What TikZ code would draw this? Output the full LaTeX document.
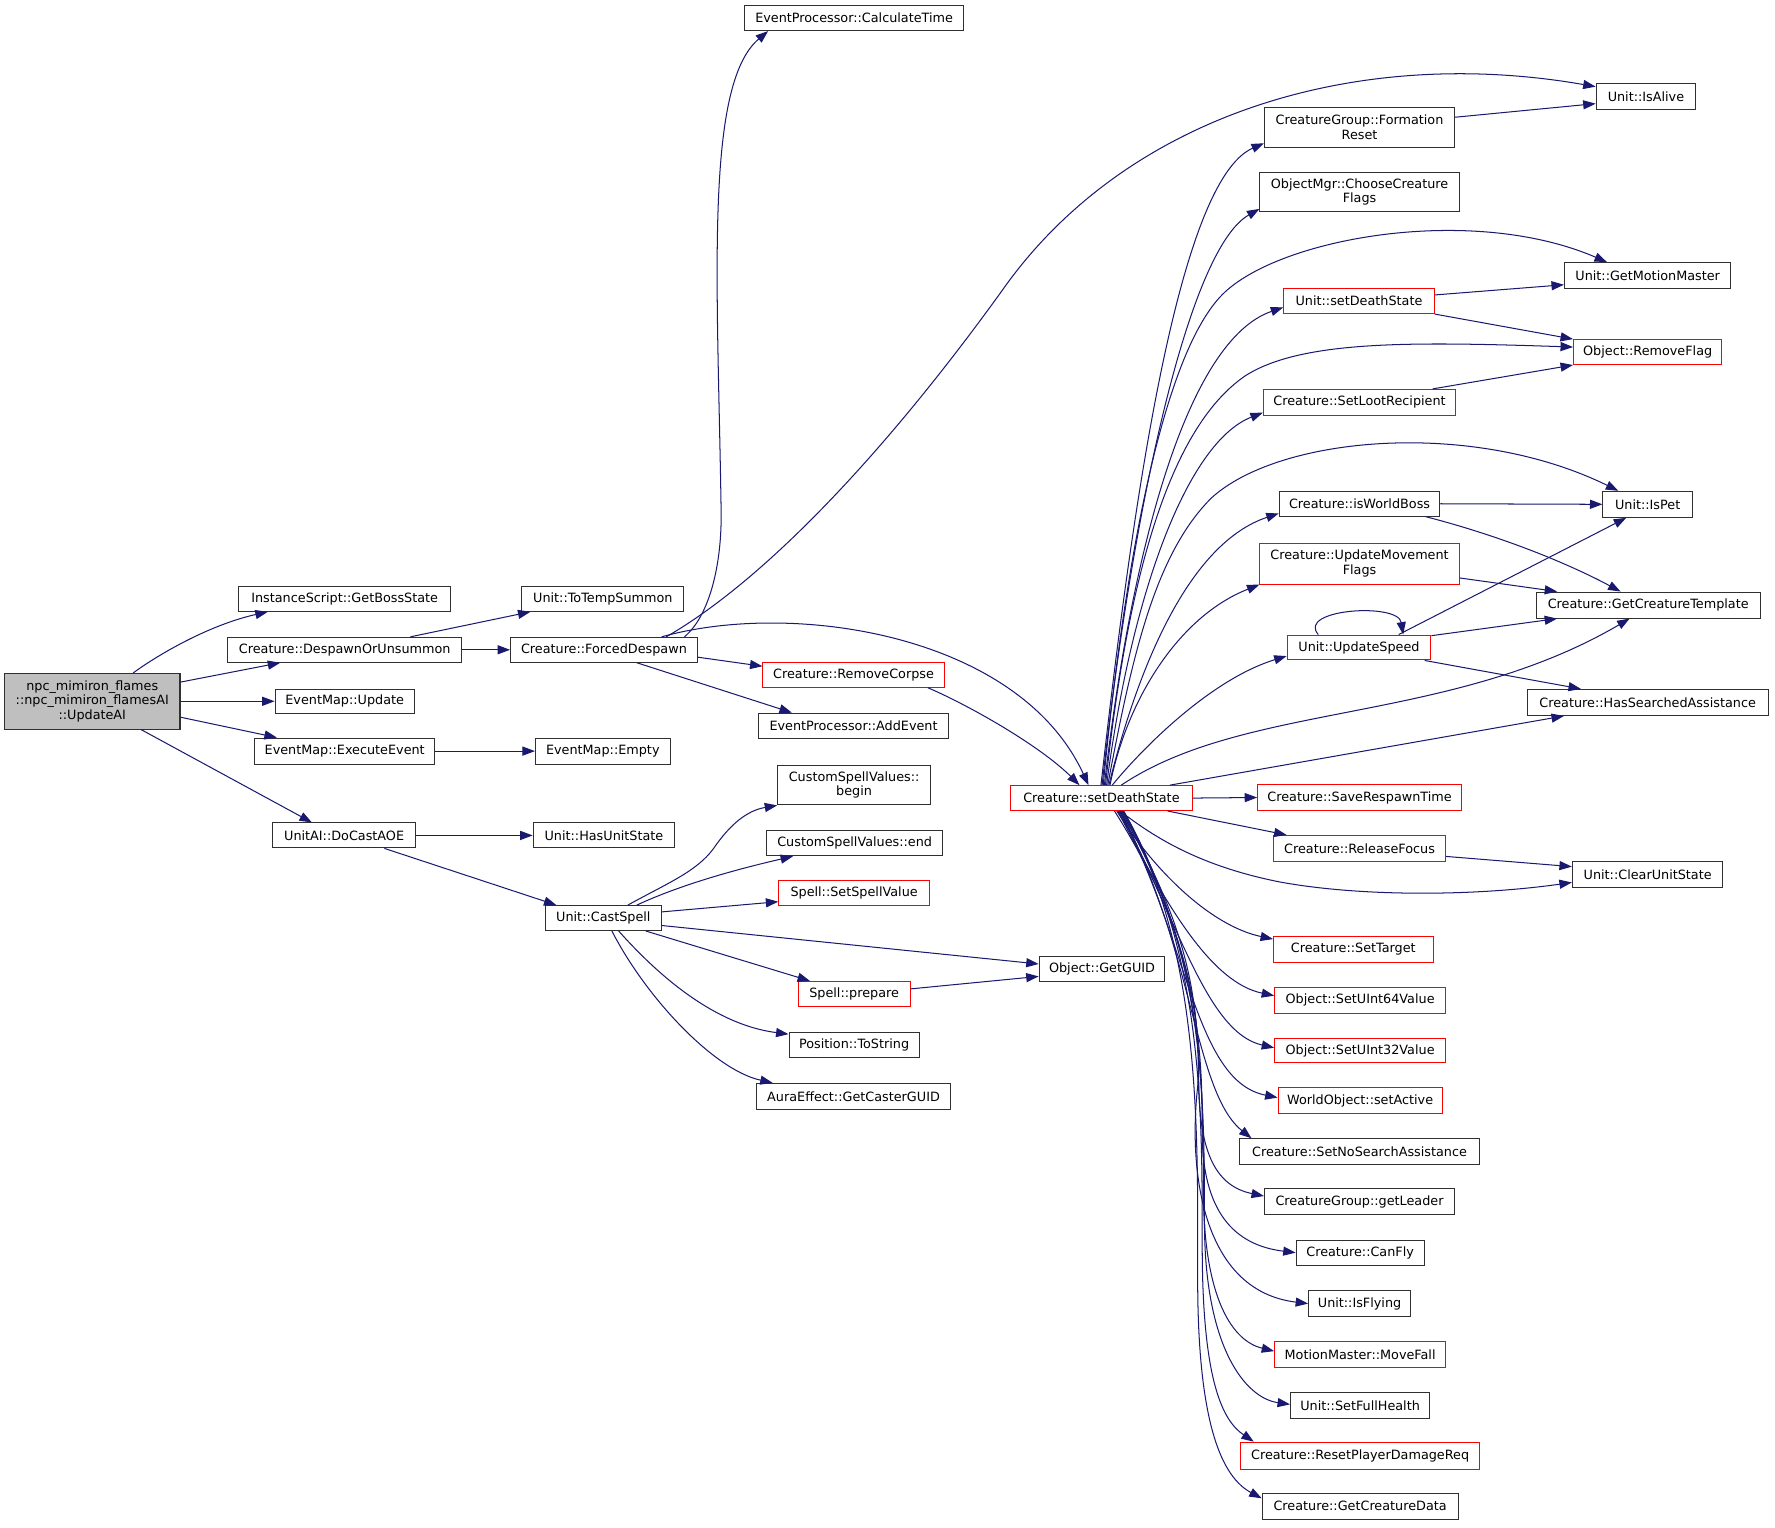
\documentclass[tikz,border=0pt]{standalone}
\usepackage{fontspec}
\setmainfont{DejaVu Sans}
\usetikzlibrary{arrows.meta}
\definecolor{edgeblue}{HTML}{191970}
\definecolor{boxred}{HTML}{FF0000}
\definecolor{boxgray}{HTML}{BFBFBF}
\definecolor{boxline}{HTML}{303030}
\newcommand\mynode[7]{\node[#6,minimum width={#3-#2},minimum height={#5-#4}] (#1) at ({(#2+#3)/2},{(#4+#5)/2}) {#7};}
\begin{document}
\begin{tikzpicture}[x=1pt,y=-1pt,
  box/.style={draw=boxline,line width=0.9pt,fill=white,inner sep=0pt,align=center,font=\fontsize{11.3}{13}\selectfont},
  rbox/.style={box,draw=boxred},
  gbox/.style={box,fill=boxgray},
  e/.style={draw=edgeblue,line width=0.9pt,-{Triangle[length=11pt,width=8pt]}}]
\fill[white] (0,0) rectangle (1568,1349);
\useasboundingbox (0,0) rectangle (1568,1349);

\mynode{main}{4}{159}{595}{644}{gbox}{npc\_mimiron\_flames\\::npc\_mimiron\_flamesAI\\::UpdateAI}
\mynode{gbs}{211}{398}{518}{540}{box}{InstanceScript::GetBossState}
\mynode{dou}{201}{408}{563}{585}{box}{Creature::DespawnOrUnsummon}
\mynode{emu}{243}{366}{609}{630}{box}{EventMap::Update}
\mynode{eee}{225}{384}{652}{675}{box}{EventMap::ExecuteEvent}
\mynode{aoe}{241}{367}{727}{749}{box}{UnitAI::DoCastAOE}
\mynode{tts}{461}{604}{518}{540}{box}{Unit::ToTempSummon}
\mynode{fd}{451}{616}{563}{585}{box}{Creature::ForcedDespawn}
\mynode{emp}{473}{592}{652}{675}{box}{EventMap::Empty}
\mynode{hus}{471}{596}{727}{749}{box}{Unit::HasUnitState}
\mynode{cs}{482}{584}{800}{822}{box}{Unit::CastSpell}
\mynode{ct}{658}{851}{5}{27}{box}{EventProcessor::CalculateTime}
\mynode{rc}{674}{834}{585}{607}{rbox}{Creature::RemoveCorpse}
\mynode{ae}{670}{838}{630}{652}{box}{EventProcessor::AddEvent}
\mynode{csb}{687}{822}{676}{711}{box}{CustomSpellValues::\\begin}
\mynode{cse}{677}{833}{734}{756}{box}{CustomSpellValues::end}
\mynode{ssv}{688}{821}{778}{800}{rbox}{Spell::SetSpellValue}
\mynode{sp}{705}{804}{867}{889}{rbox}{Spell::prepare}
\mynode{pts}{697}{812}{912}{934}{box}{Position::ToString}
\mynode{gcg}{668}{840}{957}{980}{box}{AuraEffect::GetCasterGUID}
\mynode{guid}{918}{1029}{845}{867}{box}{Object::GetGUID}
\mynode{cds}{893}{1053}{694}{716}{rbox}{Creature::setDeathState}
\mynode{fr}{1117}{1285}{95}{130}{box}{CreatureGroup::Formation\\Reset}
\mynode{ccf}{1113}{1289}{152}{187}{box}{ObjectMgr::ChooseCreature\\Flags}
\mynode{uds}{1134}{1267}{255}{277}{rbox}{Unit::setDeathState}
\mynode{slr}{1116}{1286}{344}{367}{rbox}{Creature::SetLootRecipient}
\mynode{iwb}{1130}{1272}{434}{456}{box}{Creature::isWorldBoss}
\mynode{umf}{1113}{1289}{480}{516}{rbox}{Creature::UpdateMovement\\Flags}
\mynode{us}{1137}{1264}{561}{583}{rbox}{Unit::UpdateSpeed}
\mynode{srt}{1111}{1291}{693}{716}{rbox}{Creature::SaveRespawnTime}
\mynode{rf}{1125}{1277}{738}{761}{rbox}{Creature::ReleaseFocus}
\mynode{st}{1125}{1266}{827}{850}{rbox}{Creature::SetTarget}
\mynode{s64}{1126}{1277}{872}{895}{rbox}{Object::SetUInt64Value}
\mynode{s32}{1126}{1277}{917}{939}{rbox}{Object::SetUInt32Value}
\mynode{sa}{1129}{1274}{961}{984}{rbox}{WorldObject::setActive}
\mynode{snsa}{1095}{1307}{1006}{1029}{box}{Creature::SetNoSearchAssistance}
\mynode{gl}{1117}{1285}{1050}{1073}{box}{CreatureGroup::getLeader}
\mynode{cf}{1145}{1258}{1096}{1118}{box}{Creature::CanFly}
\mynode{ifl}{1156}{1246}{1140}{1163}{box}{Unit::IsFlying}
\mynode{mf}{1126}{1277}{1185}{1208}{rbox}{MotionMaster::MoveFall}
\mynode{sfh}{1140}{1263}{1230}{1253}{box}{Unit::SetFullHealth}
\mynode{rpd}{1096}{1307}{1274}{1298}{rbox}{Creature::ResetPlayerDamageReq}
\mynode{gcd}{1115}{1288}{1319}{1342}{box}{Creature::GetCreatureData}
\mynode{ia}{1410}{1498}{74}{97}{box}{Unit::IsAlive}
\mynode{gmm}{1382}{1529}{232}{255}{box}{Unit::GetMotionMaster}
\mynode{rmf}{1390}{1521}{300}{322}{rbox}{Object::RemoveFlag}
\mynode{ip}{1416}{1495}{434}{457}{box}{Unit::IsPet}
\mynode{gct}{1357}{1555}{523}{546}{box}{Creature::GetCreatureTemplate}
\mynode{hsa}{1349}{1562}{609}{632}{box}{Creature::HasSearchedAssistance}
\mynode{cus}{1389}{1522}{761}{784}{box}{Unit::ClearUnitState}

% main
\draw[e] ([xshift=114pt]main.north west) .. controls (140,578) and (185,552) .. ([xshift=26pt]gbs.south west);
\draw[e] ([yshift=-8pt]main.north east) -- ([xshift=47pt]dou.south west);
\draw[e] (main.east) -- (emu.west);
\draw[e] ([yshift=-39pt]main.north east) -- ([xshift=20pt]eee.north west);
\draw[e] ([xshift=121pt]main.south west) -- ([xshift=35pt]aoe.north west);
% second level
\draw[e] ([xshift=162pt]dou.north west) -- ([xshift=8pt]tts.south west);
\draw[e] (dou.east) -- (fd.west);
\draw[e] (eee.east) -- (emp.west);
\draw[e] (aoe.east) -- (hus.west);
\draw[e] ([xshift=99pt]aoe.south west) -- ([xshift=10pt]cs.north west);
% ForcedDespawn
\draw[e] ([xshift=154pt]fd.north west) .. controls (626,545) and (638,500) .. (637,450) .. controls (634,250) and (622,75) .. ([xshift=21pt]ct.south west);
\draw[e] ([xshift=138pt]fd.north west) .. controls (680,510) and (790,390) .. (890,250) .. controls (1000,100) and (1200,40) .. ([yshift=-3pt]ia.north west);
\draw[e] ([xshift=134pt]fd.north west) .. controls (700,530) and (900,560) .. ([xshift=69pt]cds.north west);
\draw[e] ([yshift=-18pt]fd.north east) -- ([yshift=-4pt]rc.north west);
\draw[e] ([xshift=112pt]fd.south west) -- ([xshift=30pt]ae.north west);
\draw[e] ([xshift=146pt]rc.south west) .. controls (860,625) and (920,660) .. ([xshift=61pt]cds.north west);
% CastSpell
\draw[e] ([xshift=73pt]cs.north west) .. controls (590,780) and (615,770) .. (630,750) .. controls (645,728) and (660,716) .. (csb.south west);
\draw[e] ([xshift=81pt]cs.north west) .. controls (600,782) and (650,768) .. ([xshift=24pt]cse.south west);
\draw[e] ([yshift=-6pt]cs.north east) -- ([yshift=-19pt]ssv.north west);
\draw[e] ([yshift=-18pt]cs.north east) -- ([yshift=-7pt]guid.north west);
\draw[e] ([xshift=89pt]cs.south west) -- ([xshift=11pt]sp.north west);
\draw[e] ([xshift=65pt]cs.south west) .. controls (580,860) and (630,905) .. ([yshift=-2pt]pts.north west);
\draw[e] ([xshift=59pt]cs.south west) .. controls (570,880) and (630,945) .. ([xshift=15pt]gcg.north west);
\draw[e] ([yshift=-7pt]sp.north east) -- ([yshift=-18pt]guid.north west);
% setDeathState upward
\draw[e] ([xshift=80pt]cds.north west) .. controls (1000,450) and (1040,160) .. ([yshift=-32pt]fr.north west);
\draw[e] ([xshift=81pt]cds.north west) .. controls (1000,450) and (1050,220) .. ([yshift=-33pt]ccf.north west);
\draw[e] ([xshift=82pt]cds.north west) .. controls (995,480) and (1030,310) .. (1080,260) .. controls (1130,210) and (1300,180) .. ([xshift=38pt]gmm.north west);
\draw[e] ([xshift=83pt]cds.north west) .. controls (1000,480) and (1050,300) .. ([yshift=-17pt]uds.north west);
\draw[e] ([xshift=84pt]cds.north west) .. controls (995,520) and (1030,380) .. (1100,332) .. controls (1150,300) and (1250,302) .. ([yshift=-7pt]rmf.north west);
\draw[e] ([xshift=85pt]cds.north west) .. controls (1000,520) and (1050,390) .. ([yshift=-21pt]slr.north west);
\draw[e] ([xshift=86pt]cds.north west) .. controls (1000,580) and (1020,490) .. (1070,440) .. controls (1130,385) and (1300,370) .. ([xshift=14pt]ip.north west);
\draw[e] ([xshift=87pt]cds.north west) .. controls (1005,590) and (1050,480) .. ([yshift=-20pt]iwb.north west);
\draw[e] ([xshift=88pt]cds.north west) .. controls (995,620) and (1040,545) .. (umf.south west);
\draw[e] ([xshift=90pt]cds.north west) .. controls (1010,660) and (1070,600) .. ([yshift=-19pt]us.north west);
\draw[e] ([xshift=98pt]cds.north west) .. controls (1100,620) and (1280,640) .. ([xshift=83pt]gct.south west);
\draw[e] ([xshift=141pt]cds.north west) -- ([xshift=33pt]hsa.south west);
\draw[e] (cds.east) -- (srt.west);
\draw[e] ([xshift=139pt]cds.south west) -- ([xshift=12pt]rf.north west);
\draw[e] ([xshift=97pt]cds.south west) .. controls (1020,740) and (1060,765) .. (1130,779) .. controls (1200,792) and (1300,792) .. ([yshift=-19pt]cus.north west);
% setDeathState downward fan
\draw[e] ([xshift=94pt]cds.south west) .. controls (1020,770) and (1070,818) .. ([yshift=-3pt]st.north west);
\draw[e] ([xshift=95pt]cds.south west) .. controls (1030,800) and (1070,868) .. ([yshift=-8pt]s64.north west);
\draw[e] ([xshift=96pt]cds.south west) .. controls (1040,810) and (1065,912) .. ([yshift=-9pt]s32.north west);
\draw[e] ([xshift=96pt]cds.south west) .. controls (1050,830) and (1055,955) .. ([yshift=-9pt]sa.north west);
\draw[e] ([xshift=97pt]cds.south west) .. controls (1055,840) and (1055,965) .. ([xshift=11pt]snsa.north west);
\draw[e] ([xshift=97pt]cds.south west) .. controls (1058,830) and (1058,900) .. (1059,960) .. controls (1060,1020) and (1075,1048) .. ([yshift=-7pt]gl.north west);
\draw[e] ([xshift=98pt]cds.south west) .. controls (1060,840) and (1062,930) .. (1062,1000) .. controls (1062,1070) and (1090,1100) .. ([yshift=-11pt]cf.north west);
\draw[e] ([xshift=92pt]cds.south west) .. controls (1050,820) and (1062,900) .. (1058,960) .. controls (1050,1030) and (1060,1140) .. ([yshift=-12pt]ifl.north west);
\draw[e] ([xshift=99pt]cds.south west) .. controls (1062,840) and (1063,950) .. (1063,1050) .. controls (1063,1150) and (1090,1185) .. ([yshift=-9pt]mf.north west);
\draw[e] ([xshift=99pt]cds.south west) .. controls (1063,840) and (1064,960) .. (1064,1080) .. controls (1064,1190) and (1100,1235) .. ([yshift=-11pt]sfh.north west);
\draw[e] ([xshift=100pt]cds.south west) .. controls (1063,840) and (1062,980) .. (1062,1100) .. controls (1062,1220) and (1080,1255) .. ([xshift=12pt]rpd.north west);
\draw[e] ([xshift=100pt]cds.south west) .. controls (1062,840) and (1058,1000) .. (1058,1130) .. controls (1058,1260) and (1080,1305) .. ([yshift=-5pt]gcd.north west);
% right side
\draw[e] ([yshift=-9pt]fr.north east) -- ([yshift=-18pt]ia.north west);
\draw[e] ([yshift=-6pt]uds.north east) -- ([yshift=-20pt]gmm.north west);
\draw[e] (uds.south east) -- (rmf.north west);
\draw[e] ([xshift=150pt]slr.north west) -- (rmf.south west);
\draw[e] (iwb.east) -- (ip.west);
\draw[e] ([xshift=130pt]iwb.south west) .. controls (1320,472) and (1380,495) .. ([xshift=75pt]gct.north west);
\draw[e] ([yshift=-31pt]umf.north east) -- ([xshift=19pt]gct.north west);
\draw[e] ([xshift=28pt]us.north west) .. controls (1145,538) and (1235,532) .. ([xshift=103pt]us.north west);
\draw[e] ([xshift=99pt]us.north west) -- ([xshift=21pt]ip.south west);
\draw[e] ([yshift=-1pt]us.north east) -- ([xshift=19pt]gct.south west);
\draw[e] ([xshift=122pt]us.south west) -- ([xshift=48pt]hsa.north west);
\draw[e] ([yshift=-19pt]rf.north east) -- ([yshift=-5pt]cus.north west);
\end{tikzpicture}
\end{document}
